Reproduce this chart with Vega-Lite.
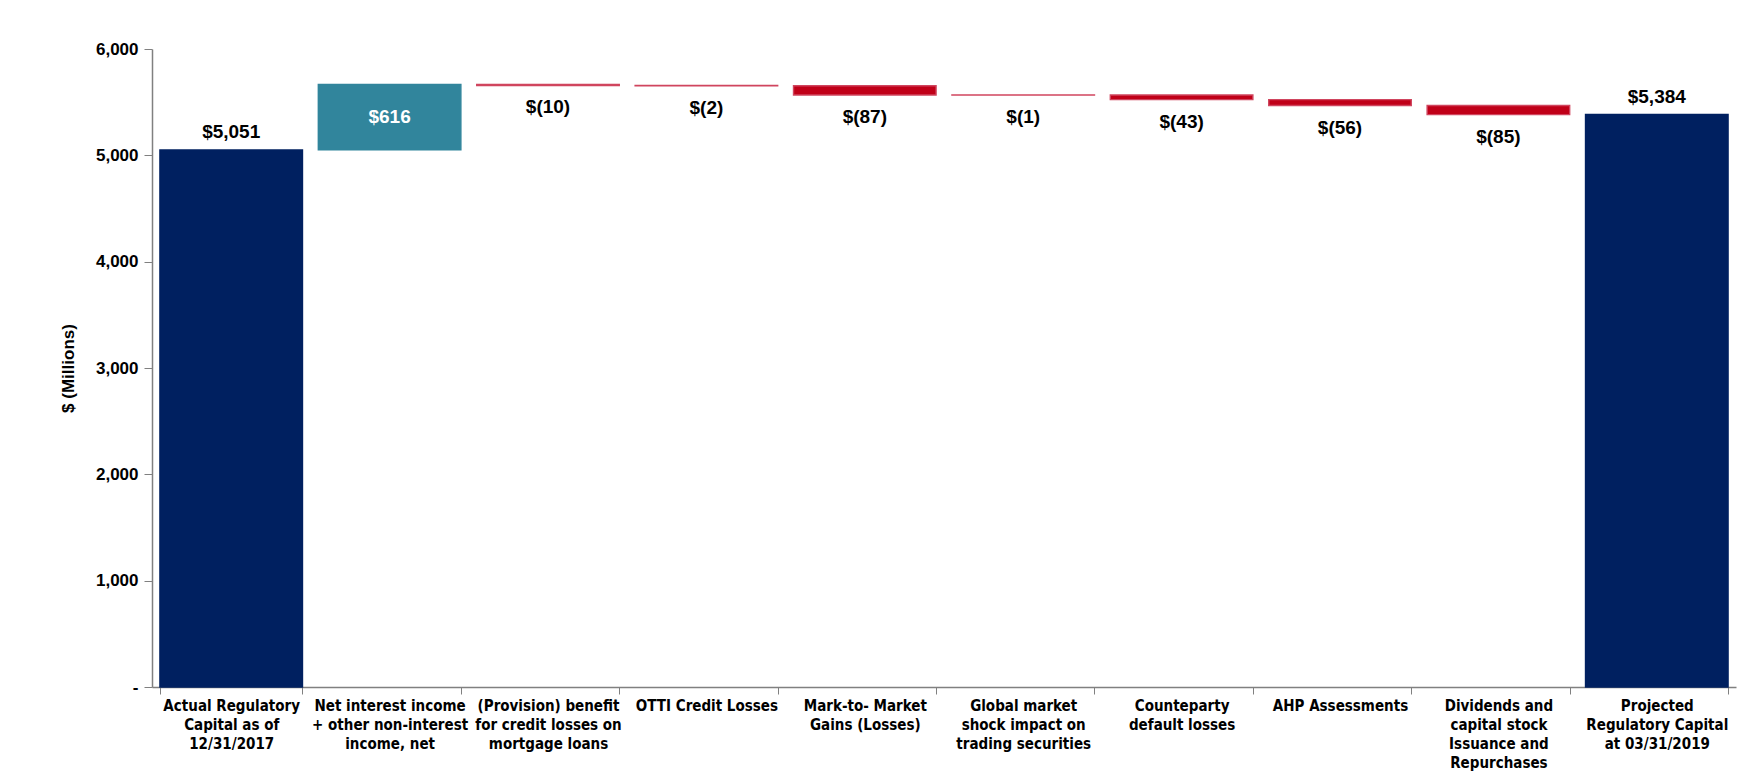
{
  "$schema": "https://vega.github.io/schema/vega-lite/v6.json",
  "width": 1584,
  "height": 638,
  "autosize": {"type": "none"},
  "padding": {"left": 152, "top": 49, "right": 9, "bottom": 96},
  "background": "white",
  "config": {"view": {"stroke": null}, "font": "Liberation Sans"},
  "data": {
    "values": [
      {"category": "Actual Regulatory|Capital as of|12/31/2017", "start": 0, "end": 5051, "type": "total", "label": "$5,051"},
      {"category": "Net interest income|+ other non-interest|income, net", "start": 5051, "end": 5667, "type": "increase", "label": "$616"},
      {"category": "(Provision) benefit|for credit losses on|mortgage loans", "start": 5667, "end": 5657, "type": "decrease", "label": "$(10)"},
      {"category": "OTTI Credit Losses", "start": 5657, "end": 5655, "type": "decrease", "label": "$(2)"},
      {"category": "Mark-to- Market|Gains (Losses)", "start": 5655, "end": 5568, "type": "decrease", "label": "$(87)"},
      {"category": "Global market|shock impact on|trading securities", "start": 5568, "end": 5567, "type": "decrease", "label": "$(1)"},
      {"category": "Counteparty|default losses", "start": 5567, "end": 5524, "type": "decrease", "label": "$(43)"},
      {"category": "AHP Assessments", "start": 5524, "end": 5468, "type": "decrease", "label": "$(56)"},
      {"category": "Dividends and|capital stock|Issuance and|Repurchases", "start": 5468, "end": 5383, "type": "decrease", "label": "$(85)"},
      {"category": "Projected|Regulatory Capital|at 03/31/2019", "start": 0, "end": 5384, "type": "total", "label": "$5,384"}
    ]
  },
  "encoding": {
    "x": {
      "field": "category",
      "type": "nominal",
      "sort": null,
      "scale": {"paddingInner": 0.1, "paddingOuter": 0.05},
      "axis": {
        "title": null,
        "labelAngle": 0,
        "labelExpr": "split(datum.label, '|')",
        "labelFont": "Liberation Sans Narrow, DejaVu Sans Condensed, sans-serif",
        "labelFontWeight": "bold",
        "labelFontSize": 15,
        "labelLineHeight": 19,
        "labelColor": "#000000",
        "labelLimit": 300,
        "labelOverlap": false,
        "labelPadding": 4,
        "domainColor": "#808080",
        "tickColor": "#808080",
        "tickBand": "extent",
        "tickSize": 7,
        "domainWidth": 1.5
      }
    }
  },
  "layer": [
    {
      "mark": {"type": "bar", "strokeWidth": 1.4},
      "encoding": {
        "y": {
          "field": "start",
          "type": "quantitative",
          "scale": {"domain": [0, 6000], "nice": false},
          "axis": {
            "title": "$ (Millions)",
            "titleFontSize": 17,
            "titleFontWeight": "bold",
            "titleColor": "#000000",
            "titlePadding": 18,
            "values": [0, 1000, 2000, 3000, 4000, 5000, 6000],
            "labelExpr": "datum.value == 0 ? '-' : format(datum.value, ',')",
            "labelFontSize": 17,
            "labelFontWeight": "bold",
            "labelColor": "#000000",
            "labelPadding": 6,
            "grid": false,
            "tickSize": 8,
            "tickColor": "#808080",
            "domainColor": "#808080",
            "domainWidth": 1.5
          }
        },
        "y2": {"field": "end"},
        "color": {
          "field": "type",
          "type": "nominal",
          "scale": {"domain": ["total", "increase", "decrease"], "range": ["#002060", "#31859C", "#C00018"]},
          "legend": null
        },
        "stroke": {
          "field": "type",
          "type": "nominal",
          "scale": {"domain": ["total", "increase", "decrease"], "range": ["#002060", "#31859C", "#D0455E"]},
          "legend": null
        }
      }
    },
    {
      "transform": [{"filter": "datum.type == 'total'"}],
      "mark": {"type": "text", "baseline": "bottom", "dy": -8, "fontSize": 19, "fontWeight": "bold", "color": "#000000"},
      "encoding": {
        "y": {"field": "end", "type": "quantitative"},
        "text": {"field": "label"}
      }
    },
    {
      "transform": [{"filter": "datum.type == 'increase'"}],
      "mark": {"type": "text", "baseline": "middle", "dy": 33, "fontSize": 19, "fontWeight": "bold", "color": "#ffffff"},
      "encoding": {
        "y": {"field": "end", "type": "quantitative"},
        "text": {"field": "label"}
      }
    },
    {
      "transform": [{"filter": "datum.type == 'decrease'"}],
      "mark": {"type": "text", "baseline": "top", "dy": 13, "fontSize": 19, "fontWeight": "bold", "color": "#000000"},
      "encoding": {
        "y": {"field": "end", "type": "quantitative"},
        "text": {"field": "label"}
      }
    }
  ]
}
